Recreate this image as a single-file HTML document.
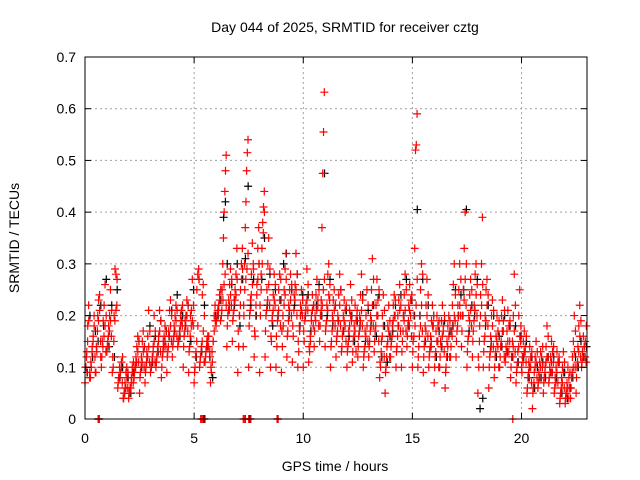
<!DOCTYPE html>
<html><head><meta charset="utf-8">
<style>
html,body{margin:0;padding:0;background:#fff;}
svg{display:block;font-family:"Liberation Sans",Arial,sans-serif;}
</style></head>
<body>
<svg id="chart" width="640" height="480" viewBox="0 0 640 480" xmlns="http://www.w3.org/2000/svg">
<rect width="640" height="480" fill="#fff"/>
<text x="345" y="32" font-size="14" text-anchor="middle">Day 044 of 2025, SRMTID for receiver cztg</text>
<text x="19" y="238" font-size="14" text-anchor="middle" transform="rotate(-90 19 238)">SRMTID / TECUs</text>
<text x="335" y="471" font-size="14" text-anchor="middle">GPS time / hours</text>
<g id="grid"></g>
<g id="black"></g>
<g id="red"></g>
<g id="axes"></g>
</svg>
<script>
const xTicks=[0,5,10,15,20];
const yTicks=[0,0.1,0.2,0.3,0.4,0.5,0.6,0.7];
const yTickLabels=["0","0.1","0.2","0.3","0.4","0.5","0.6","0.7"];
const binHours=[0,0.25,0.5,0.75,1,1.25,1.5,1.75,2,2.25,2.5,2.75,3,3.25,3.5,3.75,4,4.25,4.5,4.75,5,5.25,5.5,5.75,6,6.25,6.5,6.75,7,7.25,7.5,7.75,8,8.25,8.5,8.75,9,9.25,9.5,9.75,10,10.25,10.5,10.75,11,11.25,11.5,11.75,12,12.25,12.5,12.75,13,13.25,13.5,13.75,14,14.25,14.5,14.75,15,15.25,15.5,15.75,16,16.25,16.5,16.75,17,17.25,17.5,17.75,18,18.25,18.5,18.75,19,19.25,19.5,19.75,20,20.25,20.5,20.75,21,21.25,21.5,21.75,22,22.25,22.5,22.75];
const redValues=[
[0.07,0.1,0.13,0.18,0.22,0.08],[0.08,0.1,0.14,0.16,0.2,0.12],[0.09,0.13,0.2,0.23,0.24,0.15],[0.1,0.15,0.19,0.22,0.26,0.13],[0.13,0.15,0.18,0.2,0.25,0.16],[0.09,0.1,0.2,0.29,0.28,0.22],
[0.06,0.08,0.1,0.09,0.11,0.07],[0.04,0.05,0.07,0.09,0.1,0.06],[0.04,0.05,0.06,0.08,0.1,0.07],[0.08,0.1,0.12,0.14,0.16,0.11],[0.05,0.09,0.12,0.15,0.17,0.1],[0.07,0.1,0.13,0.16,0.21,0.11],
[0.09,0.1,0.12,0.14,0.2,0.11],[0.1,0.12,0.14,0.16,0.21,0.13],[0.08,0.12,0.15,0.16,0.18,0.14],[0.09,0.13,0.17,0.21,0.23,0.15],[0.12,0.15,0.18,0.2,0.22,0.16],[0.14,0.15,0.17,0.2,0.21,0.18],
[0.1,0.16,0.19,0.2,0.23,0.17],[0.09,0.14,0.2,0.21,0.27,0.18],[0.07,0.1,0.13,0.25,0.28,0.29],[0.1,0.12,0.14,0.24,0.26,0.11],[0.11,0.13,0.15,0.16,0.14,0.12],[0.07,0.09,0.11,0.15,0.2,0.22],
[0.18,0.2,0.21,0.22,0.24,0.19],[0.2,0.25,0.3,0.35,0.4,0.44,0.48,0.51],[0.14,0.2,0.23,0.26,0.29,0.22],[0.15,0.2,0.23,0.25,0.28,0.33],[0.09,0.14,0.2,0.25,0.3,0.33],[0.14,0.2,0.3,0.37,0.42,0.48,0.515,0.54],
[0.1,0.2,0.23,0.28,0.34,0.3],[0.12,0.16,0.22,0.26,0.33,0.37],[0.09,0.2,0.28,0.33,0.38,0.41,0.44],[0.12,0.2,0.25,0.3,0.35,0.22],[0.1,0.15,0.2,0.24,0.28,0.22],[0.1,0.14,0.2,0.25,0.28,0.18],
[0.09,0.14,0.18,0.25,0.29,0.32],[0.12,0.17,0.22,0.25,0.28,0.2],[0.11,0.16,0.24,0.26,0.32,0.2],[0.1,0.13,0.17,0.22,0.25,0.2],[0.1,0.15,0.2,0.22,0.29,0.21],[0.11,0.13,0.15,0.2,0.24,0.18],
[0.14,0.2,0.24,0.27,0.22,0.18],[0.15,0.2,0.23,0.37,0.475,0.555,0.632],[0.14,0.18,0.22,0.28,0.3,0.23],[0.1,0.15,0.2,0.23,0.25,0.18],[0.12,0.16,0.2,0.24,0.28,0.18],[0.13,0.16,0.2,0.23,0.18,0.15],
[0.1,0.14,0.17,0.21,0.26,0.19],[0.11,0.15,0.18,0.22,0.13,0.2],[0.12,0.16,0.2,0.24,0.28,0.18],[0.1,0.13,0.17,0.2,0.25,0.15],[0.12,0.15,0.2,0.25,0.31,0.18],[0.13,0.17,0.22,0.27,0.2,0.15],
[0.08,0.1,0.15,0.2,0.24,0.12],[0.05,0.1,0.14,0.18,0.22,0.12],[0.12,0.15,0.18,0.22,0.24,0.2],[0.1,0.14,0.2,0.23,0.26,0.17],[0.1,0.15,0.2,0.24,0.28,0.17],[0.14,0.18,0.22,0.26,0.2,0.16],
[0.1,0.15,0.2,0.33,0.52,0.53,0.59],[0.1,0.14,0.2,0.25,0.3,0.17],[0.09,0.14,0.18,0.22,0.27,0.16],[0.1,0.13,0.16,0.19,0.22,0.18],[0.07,0.12,0.17,0.2,0.15,0.1],[0.1,0.15,0.19,0.22,0.17,0.13],
[0.06,0.1,0.15,0.18,0.2,0.12],[0.12,0.17,0.22,0.26,0.3,0.19],[0.12,0.17,0.22,0.25,0.3,0.2],[0.14,0.2,0.25,0.33,0.4,0.22],[0.1,0.15,0.2,0.24,0.27,0.18],[0.12,0.17,0.22,0.28,0.3,0.2],
[0.05,0.1,0.18,0.24,0.3,0.39],[0.1,0.15,0.2,0.25,0.27,0.18],[0.06,0.12,0.16,0.2,0.23,0.14],[0.08,0.12,0.16,0.2,0.14,0.1],[0.1,0.14,0.2,0.23,0.17,0.12],[0.11,0.14,0.17,0.21,0.13,0.15],
[0.08,0.12,0.15,0.2,0.28,0.13],[0.07,0.1,0.13,0.2,0.25,0.15],[0.1,0.12,0.15,0.17,0.13,0.11],[0.05,0.08,0.11,0.14,0.1,0.07],[0.02,0.06,0.09,0.12,0.15,0.08],[0.06,0.09,0.11,0.13,0.08,0.1],
[0.05,0.08,0.1,0.14,0.18,0.12],[0.07,0.1,0.12,0.15,0.09,0.11],[0.05,0.08,0.1,0.13,0.07,0.11],[0.03,0.05,0.08,0.1,0.13,0.06],[0.03,0.05,0.07,0.1,0.04,0.06],[0.04,0.08,0.12,0.15,0.2,0.1],
[0.05,0.1,0.14,0.18,0.22,0.12],[0.1,0.13,0.16,0.14,0.12,0.11]];
const redValuesB=[
[0.1,0.12,0.15,0.19,0.09],[0.11,0.13,0.15,0.18,0.09],[0.14,0.17,0.19,0.21,0.12],[0.12,0.14,0.16,0.18,0.2],[0.14,0.16,0.17,0.19,0.21],[0.12,0.15,0.19,0.21,0.27],
[0.07,0.08,0.09,0.1,0.12],[0.04,0.05,0.06,0.08,0.09],[0.05,0.06,0.07,0.09,0.11],[0.09,0.1,0.11,0.13,0.15],[0.08,0.1,0.11,0.13,0.14],[0.09,0.11,0.12,0.14,0.17],
[0.1,0.11,0.13,0.15,0.17],[0.11,0.13,0.15,0.17,0.19],[0.1,0.13,0.14,0.15,0.17],[0.12,0.14,0.16,0.18,0.2],[0.14,0.16,0.17,0.19,0.21],[0.15,0.16,0.18,0.19,0.22],
[0.14,0.17,0.18,0.2,0.22],[0.13,0.16,0.18,0.19,0.22],[0.09,0.12,0.15,0.18,0.27],[0.11,0.13,0.15,0.17,0.2],[0.12,0.14,0.15,0.16,0.13],[0.1,0.13,0.15,0.17,0.19],
[0.19,0.2,0.21,0.23,0.25],[0.21,0.23,0.26,0.28,0.22],[0.18,0.21,0.22,0.24,0.27],[0.19,0.21,0.23,0.24,0.27],[0.17,0.2,0.22,0.27,0.29],[0.22,0.25,0.27,0.29,0.32],
[0.18,0.21,0.24,0.26,0.29],[0.17,0.2,0.24,0.27,0.3],[0.22,0.25,0.3,0.36,0.4],[0.17,0.21,0.23,0.26,0.29],[0.16,0.19,0.21,0.23,0.26],[0.16,0.19,0.21,0.23,0.27],
[0.17,0.2,0.22,0.24,0.27],[0.16,0.19,0.21,0.23,0.26],[0.18,0.21,0.23,0.25,0.28],[0.15,0.18,0.2,0.21,0.23],[0.17,0.19,0.21,0.23,0.26],[0.14,0.16,0.19,0.21,0.22],
[0.17,0.19,0.21,0.23,0.25],[0.18,0.21,0.22,0.25,0.27],[0.17,0.19,0.21,0.24,0.26],[0.14,0.17,0.19,0.21,0.22],[0.15,0.17,0.19,0.22,0.25],[0.14,0.17,0.19,0.21,0.22],
[0.13,0.15,0.18,0.2,0.23],[0.13,0.16,0.17,0.19,0.21],[0.14,0.17,0.19,0.21,0.23],[0.12,0.14,0.16,0.18,0.22],[0.14,0.17,0.19,0.22,0.27],[0.15,0.18,0.2,0.23,0.25],
[0.11,0.13,0.16,0.18,0.21],[0.09,0.12,0.15,0.17,0.19],[0.14,0.16,0.19,0.2,0.23],[0.13,0.16,0.18,0.21,0.22],[0.13,0.17,0.19,0.21,0.25],[0.16,0.19,0.21,0.23,0.24],
[0.13,0.16,0.18,0.22,0.27],[0.12,0.16,0.18,0.22,0.28],[0.12,0.15,0.17,0.2,0.24],[0.12,0.14,0.15,0.18,0.2],[0.1,0.13,0.15,0.18,0.19],[0.12,0.14,0.16,0.18,0.2],
[0.09,0.12,0.14,0.16,0.19],[0.14,0.16,0.18,0.2,0.24],[0.15,0.18,0.2,0.22,0.27],[0.17,0.2,0.23,0.27,0.3],[0.13,0.16,0.19,0.21,0.25],[0.15,0.19,0.21,0.24,0.26],
[0.12,0.15,0.2,0.22,0.26],[0.13,0.16,0.19,0.22,0.24],[0.1,0.13,0.15,0.18,0.21],[0.1,0.13,0.15,0.17,0.19],[0.12,0.15,0.17,0.19,0.21],[0.12,0.13,0.15,0.18,0.19],
[0.1,0.12,0.14,0.17,0.22],[0.09,0.11,0.14,0.16,0.18],[0.09,0.11,0.13,0.14,0.16],[0.06,0.09,0.1,0.12,0.13],[0.05,0.07,0.1,0.11,0.13],[0.07,0.08,0.1,0.12,0.14],
[0.07,0.09,0.11,0.12,0.16],[0.08,0.09,0.11,0.13,0.14],[0.06,0.07,0.09,0.11,0.12],[0.04,0.06,0.07,0.09,0.11],[0.04,0.05,0.06,0.08,0.09],[0.06,0.09,0.1,0.13,0.17],
[0.08,0.11,0.13,0.16,0.19],[0.11,0.12,0.14,0.15,0.18]];
const blackValues=[
[0.09,0.2],[0.12,0.17],[0.15,0.22],[0.18,0.27],[0.14,0.22],[0.12,0.25],[0.08,0.1],[0.06,0.08],[0.05,0.09],[0.11,0.15],[0.1,0.14],[0.12,0.18],
[0.11,0.16],[0.13,0.19],[0.14,0.17],[0.16,0.21],[0.17,0.24],[0.16,0.2],[0.18,0.22],[0.15,0.25],[0.12,0.27],[0.13,0.22],[0.14,0.12],[0.08,0.2],
[0.2,0.23],[0.39,0.42,0.3],[0.21,0.26],[0.22,0.3],[0.18,0.27],[0.31,0.45],[0.22,0.27],[0.2,0.3],[0.27,0.35],[0.22,0.28],[0.18,0.25],[0.2,0.23],
[0.3,0.32],[0.2,0.25],[0.22,0.28],[0.18,0.24],[0.2,0.24],[0.17,0.22],[0.22,0.26],[0.2,0.475],[0.2,0.27],[0.18,0.22],[0.19,0.25],[0.17,0.21],
[0.16,0.2],[0.15,0.19],[0.18,0.24],[0.15,0.21],[0.18,0.22],[0.16,0.24],[0.12,0.18],[0.11,0.16],[0.17,0.22],[0.18,0.24],[0.2,0.27],[0.18,0.23],
[0.2,0.405],[0.2,0.27],[0.15,0.22],[0.14,0.2],[0.12,0.17],[0.14,0.19],[0.12,0.17],[0.18,0.25],[0.2,0.24],[0.25,0.405],[0.17,0.22],[0.2,0.27],
[0.02,0.04],[0.18,0.22],[0.14,0.2],[0.12,0.16],[0.14,0.2],[0.13,0.18],[0.12,0.18],[0.11,0.16],[0.12,0.15],[0.08,0.12],[0.06,0.1],[0.08,0.11],
[0.08,0.12],[0.09,0.12],[0.08,0.11],[0.05,0.09],[0.04,0.06],[0.08,0.12],[0.1,0.15],[0.12,0.14]];
const redZeroHours=[0.6,0.65,5.3,5.35,5.4,5.5,7.25,7.3,7.35,7.5,7.6,8.8,8.85,19.6];
const blackZeroHours=[0.6,0.65,5.45,7.55,8.82];

const X0=85,X1=587,Y0=419,Y1=57,XMAX=23,YMAX=0.7;
function xs(h){return X0+(X1-X0)*h/XMAX;}
function ys(v){return Y0-(Y0-Y1)*v/YMAX;}
const NS="http://www.w3.org/2000/svg";
function mk(tag,attrs,parent){const e=document.createElementNS(NS,tag);for(const k in attrs)e.setAttribute(k,attrs[k]);parent.appendChild(e);return e;}
const grid=document.getElementById('grid'),axes=document.getElementById('axes');
xTicks.forEach((t,i)=>{
  const x=xs(t);
  if(t>0){const g=mk('line',{x1:x,x2:x,y1:Y1,y2:Y0,stroke:'#a0a0a0','stroke-dasharray':'2,3','stroke-width':1},grid);
  
  }
  mk('line',{x1:x,x2:x,y1:Y0,y2:Y0-6,stroke:'#000'},axes);
  mk('line',{x1:x,x2:x,y1:Y1,y2:Y1+6,stroke:'#000'},axes);
  const tx=mk('text',{x:x,y:Y0+24,'font-size':14,'text-anchor':'middle'},axes);tx.textContent=String(t);
  
  
});
yTicks.forEach((t,i)=>{
  const y=ys(t);
  if(t>0&&t<YMAX){const g=mk('line',{x1:X0,x2:X1,y1:y,y2:y,stroke:'#a0a0a0','stroke-dasharray':'2,3','stroke-width':1},grid);
  
  }
  mk('line',{x1:X0,x2:X0+6,y1:y,y2:y,stroke:'#000'},axes);
  mk('line',{x1:X1,x2:X1-6,y1:y,y2:y,stroke:'#000'},axes);
  const tx=mk('text',{x:X0-9,y:y+5,'font-size':14,'text-anchor':'end'},axes);tx.textContent=yTickLabels[i];
  
  
});
const frame=mk('rect',{x:X0,y:Y1,width:X1-X0,height:Y0-Y1,fill:'none',stroke:'#000','stroke-width':1},axes);


function plus(g,h,v,color){
  const x=xs(h),y=ys(v);
  const p=mk('path',{d:`M${x-4},${y}H${x+4}M${x},${y-4}V${y+4}`,stroke:color,'stroke-width':1.2,fill:'none'},g);
  
  
}
function drawSeries(gid,vals,zeros,color,off){
  const g=document.getElementById(gid);
  binHours.forEach((h,i)=>{
    const arr=vals[i]||[];
    arr.forEach((v,j)=>{plus(g,h+off+0.25*j/arr.length,v,color);});
  });
  if(zeros)zeros.forEach(h=>plus(g,h,0,color));
}
drawSeries('black',blackValues,blackZeroHours,'#000',0.1);
drawSeries('red',redValues,redZeroHours,'#ff0000',0);
drawSeries('red',redValuesB,null,'#ff0000',0.02);
</script>
</body></html>
